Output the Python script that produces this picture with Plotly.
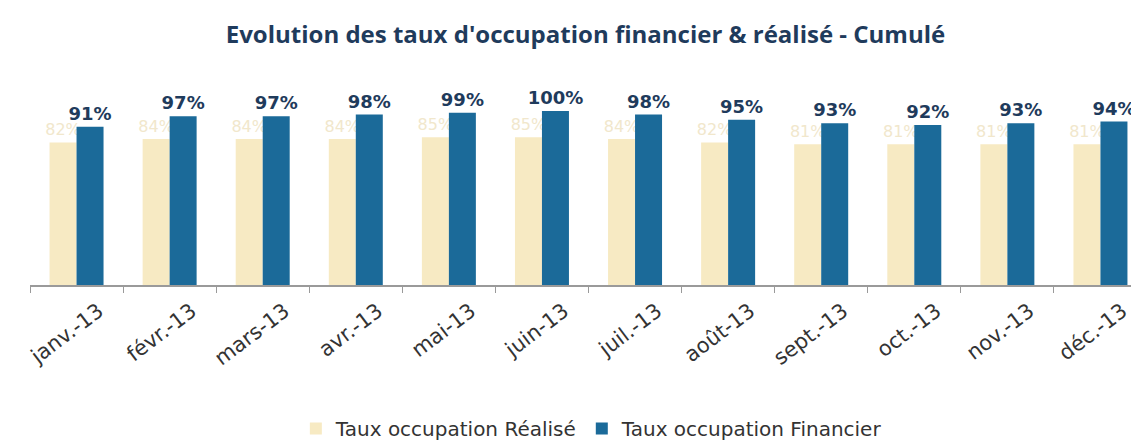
import plotly.graph_objects as go

months = ["janv.-13", "févr.-13", "mars-13", "avr.-13", "mai-13", "juin-13",
          "juil.-13", "août-13", "sept.-13", "oct.-13", "nov.-13", "déc.-13"]
realise = [0.82, 0.84, 0.84, 0.84, 0.85, 0.85, 0.84, 0.82, 0.81, 0.81, 0.81, 0.81]
financier = [0.91, 0.97, 0.97, 0.98, 0.99, 1.00, 0.98, 0.95, 0.93, 0.92, 0.93, 0.94]

fig = go.Figure()
fig.add_trace(go.Bar(
    x=months, y=realise, name="Taux occupation Réalisé",
    marker=dict(color="#f7eac3", line=dict(width=0)),
    text=[f"{v:.0%}" for v in realise], textposition="outside",
    textfont=dict(family="DejaVu Sans", size=16, color="#f1e7cc"),
    cliponaxis=False,
))
fig.add_trace(go.Bar(
    x=months, y=financier, name="Taux occupation Financier",
    marker=dict(color="#1b6a99", line=dict(width=0)),
    text=[f"{v:.0%}" for v in financier], textposition="outside",
    textfont=dict(family="DejaVu Sans", size=18, color="#1f3b5c", weight="bold"),
    cliponaxis=False,
))

fig.update_layout(
    width=1139, height=445,
    paper_bgcolor="white", plot_bgcolor="white",
    margin=dict(l=22, r=0, t=77, b=168, autoexpand=False),
    barmode="group", bargap=0.42, bargroupgap=0,
    uniformtext=dict(minsize=16, mode="show"),
    title=dict(text="<b>Evolution des taux d'occupation financier & réalisé - Cumulé</b>",
               x=0.507, xanchor="center", y=0.94, yanchor="middle",
               font=dict(family="Open Sans", size=24, color="#1f3b5c")),
    xaxis=dict(showline=True, linecolor="#9a9a9a", linewidth=1.5,
               tickson="boundaries", ticks="outside", ticklen=6, tickcolor="#9a9a9a",
               tickangle=-37, ticklabelshift=22, ticklabelstandoff=4,
               tickfont=dict(family="DejaVu Sans", size=21, color="#333333")),
    yaxis=dict(range=[0, 1.15], visible=False),
    legend=dict(orientation="h", x=0.503, xanchor="center", y=-0.62, yanchor="top",
                font=dict(family="DejaVu Sans", size=20, color="#333333"),
                itemwidth=30, traceorder="normal"),
    showlegend=True,
)

fig.write_html("out.html")
